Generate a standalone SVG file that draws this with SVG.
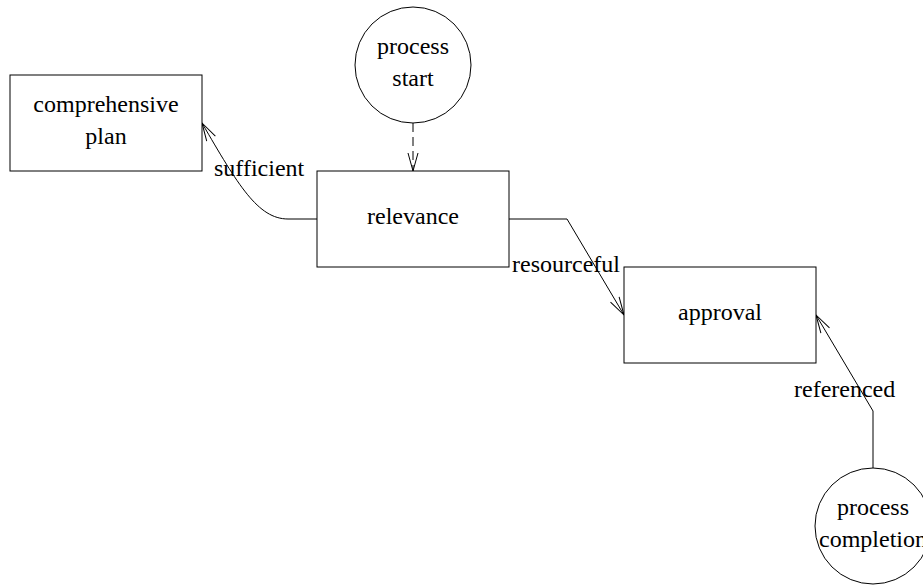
<svg xmlns="http://www.w3.org/2000/svg" width="923" height="586" viewBox="0 0 923 586">
<style>
.box{fill:#fff;stroke:#000;stroke-width:1}
.t{font-family:"Liberation Serif","Times New Roman",serif;font-size:24px;fill:#000}
.c{text-anchor:middle}
.e{fill:none;stroke:#000;stroke-width:1}
</style>
<defs>
<marker id="arr" viewBox="0 0 20 12" refX="19" refY="6" markerWidth="20" markerHeight="12" markerUnits="userSpaceOnUse" orient="auto">
<path d="M1,1 L19,6 L1,11" fill="none" stroke="#000" stroke-width="1"/>
</marker>
</defs>
<rect width="923" height="586" fill="#fff"/>
<g id="edges">
<path class="e" d="M413,123 L413,171" stroke-dasharray="9,5" marker-end="url(#arr)"/>
<path class="e" d="M317,219 L288,219 C258,219 238,185 202,123" marker-end="url(#arr)"/>
<path class="e" d="M509,219 L567,219 L624,315" marker-end="url(#arr)"/>
<path class="e" d="M873,468 L873,411 L816,315" marker-end="url(#arr)"/>
</g>
<g id="comprehensive-plan">
<rect class="box" x="10" y="75" width="192" height="96"/>
<text class="t c" x="106" y="112">comprehensive</text>
<text class="t c" x="106" y="144">plan</text>
</g>
<g id="process-start">
<circle class="box" cx="413" cy="65" r="58"/>
<text class="t c" x="413" y="54">process</text>
<text class="t c" x="413" y="86">start</text>
</g>
<g id="relevance">
<rect class="box" x="317" y="171" width="192" height="96"/>
<text class="t c" x="413" y="224">relevance</text>
</g>
<g id="approval">
<rect class="box" x="624" y="267" width="192" height="96"/>
<text class="t c" x="720" y="320">approval</text>
</g>
<g id="process-completion">
<circle class="box" cx="873" cy="526" r="58"/>
<text class="t c" x="873" y="515">process</text>
<text class="t c" x="873" y="547">completion</text>
</g>
<g id="labels">
<text class="t" x="214" y="176">sufficient</text>
<text class="t" x="512" y="272">resourceful</text>
<text class="t" x="794" y="397">referenced</text>
</g>
</svg>
